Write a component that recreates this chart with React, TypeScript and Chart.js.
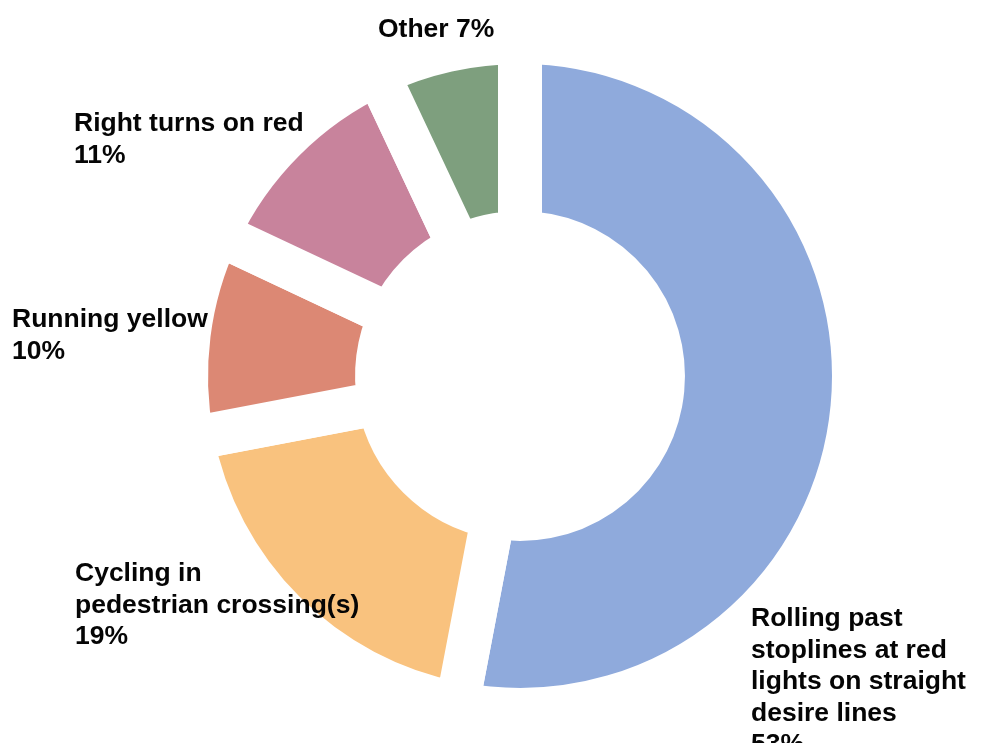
import React, { useEffect, useRef } from "react";
import { Chart, registerables } from "chart.js";

Chart.register(...registerables);

// ---- data ----
const categoryLines: string[][] = [
  ["Rolling past", "stoplines at red", "lights on straight", "desire lines"],
  ["Cycling in", "pedestrian crossing(s)"],
  ["Running yellow"],
  ["Right turns on red"],
  ["Other"],
];
const shares: number[] = [53, 19, 10, 11, 7];
const sliceColors: string[] = ["#8FAADC", "#F9C27E", "#DC8874", "#C8839C", "#7E9F7E"];

// ---- layout (label anchors, canvas px: left x, first baseline y) ----
const labelAnchors: [number, number][] = [
  [751, 626],
  [75, 581],
  [12, 327],
  [74, 131],
  [378, 37],
];
const LINE_H = 31.5;
const FONT = "bold 26.5px 'Liberation Sans', Arial, Helvetica, sans-serif";

const labelPlugin = {
  id: "sliceLabels",
  afterDraw(chart: any) {
    const ctx = chart.ctx;
    ctx.save();
    ctx.font = FONT;
    ctx.fillStyle = "#050505";
    ctx.textAlign = "left";
    ctx.textBaseline = "alphabetic";
    shares.forEach((v, i) => {
      const lines = categoryLines[i].slice();
      if (lines.length === 1 && categoryLines[i][0] === "Other") {
        lines[0] = `${lines[0]} ${v}%`;
      } else {
        lines.push(`${v}%`);
      }
      const [x, y] = labelAnchors[i];
      lines.forEach((t, k) => ctx.fillText(t, x, y + k * LINE_H));
    });
    ctx.restore();
  },
};

export default function App() {
  const ref = useRef<HTMLCanvasElement | null>(null);
  useEffect(() => {
    if (!ref.current) return;
    const chart = new Chart(ref.current, {
      type: "doughnut",
      data: {
        labels: categoryLines.map((l) => l.join(" ")),
        datasets: [
          {
            data: shares,
            backgroundColor: sliceColors,
            borderColor: "#ffffff",
            borderWidth: 44,
            hoverBorderWidth: 44,
            borderJoinStyle: "miter",
            hoverOffset: 0,
            offset: 0,
          } as any,
        ],
      },
      options: {
        animation: false,
        responsive: true,
        maintainAspectRatio: false,
        radius: 334,
        cutout: "42.8%",
        layout: { padding: { left: 53, top: 9, right: 0, bottom: 0 } },
        events: [],
        plugins: {
          legend: { display: false },
          tooltip: { enabled: false },
        },
      } as any,
      plugins: [labelPlugin],
    });
    return () => chart.destroy();
  }, []);
  return (
    <div
      style={{
        position: "fixed",
        left: 0,
        top: 0,
        width: 987,
        height: 743,
        background: "#ffffff",
        overflow: "hidden",
      }}
    >
      <canvas ref={ref} />
    </div>
  );
}
